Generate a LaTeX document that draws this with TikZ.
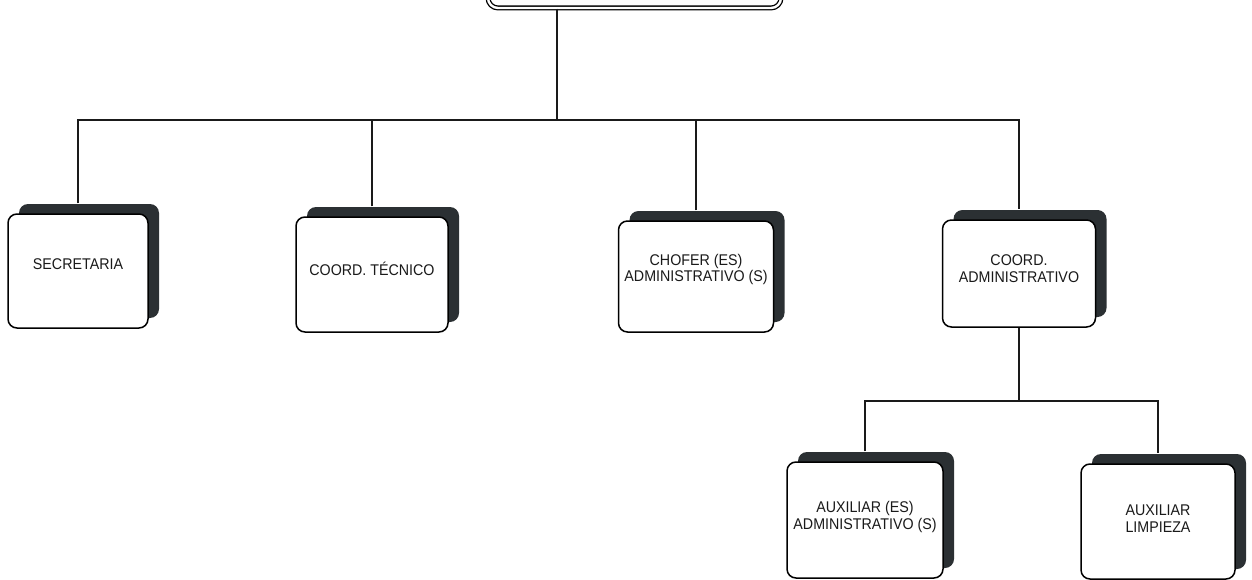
\documentclass[tikz,border=0pt]{standalone}
\usepackage{fontspec}
\setmainfont{Liberation Sans}
\usetikzlibrary{shadows,calc}
\definecolor{shade}{HTML}{2B3033}
\definecolor{ink}{HTML}{1A1A1A}
\newcommand\capfont{\fontsize{15.5}{16.5}\selectfont\lineskiplimit=-10pt\relax}
\tikzset{
  unit/.style={draw=black, line width=1.5pt, fill=white, rounded corners=9pt,
    general shadow={shadow xshift=11pt, shadow yshift=10pt, fill=shade},
    minimum width=153pt, minimum height=112pt, inner sep=0pt},
  caption/.style={font=\capfont, align=center, text=ink, xscale=0.92, transform shape},
  link/.style={draw=ink, line width=1.2pt},
  head/.style={draw=black, double=white, double distance=2.4pt, line width=1.3pt,
    rounded corners=10pt, fill=white, minimum width=293pt, minimum height=60pt}
}
\begin{document}
\begin{tikzpicture}[x=1pt, y=-1pt]
  \useasboundingbox (0,0) rectangle (1252,580);

  % head office box (top, partly outside the page)
  \node[head] (dir) at (634.5,-22) {};

  % bus coordinates
  \coordinate (bus)  at (557,120);
  \coordinate (sub)  at (1019,401);

  % first level units
  \node[unit, minimum width=140pt, minimum height=114pt] (sec) at (78,271) {};
  \node[unit, minimum width=152pt, minimum height=115pt] (tec) at (372,274.5) {};
  \node[unit, minimum width=155pt, minimum height=111pt] (cho) at (696,276.5) {};
  \node[unit, minimum width=153pt, minimum height=107pt] (adm) at (1019,273.5) {};

  % second level units
  \node[unit, minimum width=156pt, minimum height=116pt] (aux) at (865,520) {};
  \node[unit, minimum width=154pt, minimum height=115pt] (lim) at (1158,521.5) {};

  % captions
  \node[caption] (tsec) at ([yshift=7pt]sec.center) {SECRETARIA};
  \node[caption] (ttec) at ([yshift=6pt]tec.center) {COORD. TÉCNICO};
  \node[caption] (tcho) at ([yshift=7pt]cho.center) {CHOFER (ES)\\ADMINISTRATIVO (S)};
  \node[caption] (tadm) at ([yshift=5pt]adm.center) {COORD.\\ADMINISTRATIVO};
  \node[caption] (taux) at ([yshift=3pt]aux.center) {AUXILIAR (ES)\\ADMINISTRATIVO (S)};
  \node[caption] (tlim) at ([yshift=3pt]lim.center) {AUXILIAR\\LIMPIEZA};

  % connectors, first level
  \draw[link] (dir.south -| bus) -- (bus);
  \draw[link] ([yshift=10pt]sec.north) |- (bus -| adm.north) -- ([yshift=10pt]adm.north);
  \draw[link] ([yshift=10pt]tec.north) -- (bus -| tec.north);
  \draw[link] ([yshift=10pt]cho.north) -- (bus -| cho.north);

  % connectors, second level
  \draw[link] (adm.south) -- (sub);
  \draw[link] ([yshift=10pt]aux.north) |- (sub) -| ([yshift=10pt]lim.north);
\end{tikzpicture}
\end{document}
